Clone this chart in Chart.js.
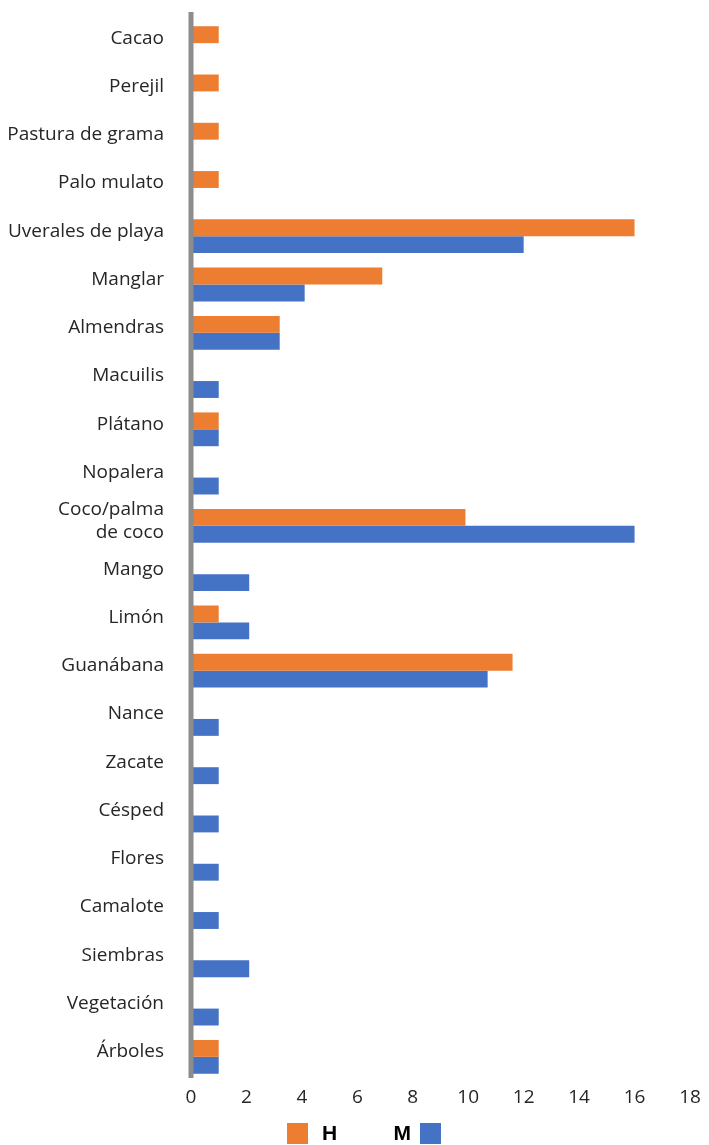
<!DOCTYPE html>
<html>
<head>
<meta charset="utf-8">
<script src="https://cdn.jsdelivr.net/npm/chart.js@4"></script>
<style>
  html, body { margin: 0; padding: 0; background: #fff; }
  #wrap { position: relative; width: 709px; height: 1145px; }
</style>
</head>
<body>
<div id="wrap"><canvas id="plantChart"></canvas></div>
<script>
const categories = [
  'Cacao', 'Perejil', 'Pastura de grama', 'Palo mulato', 'Uverales de playa',
  'Manglar', 'Almendras', 'Macuilis', 'Plátano', 'Nopalera',
  ['Coco/palma', 'de coco'], 'Mango', 'Limón', 'Guanábana', 'Nance',
  'Zacate', 'Césped', 'Flores', 'Camalote', 'Siembras', 'Vegetación', 'Árboles'
];
const valuesH = [1, 1, 1, 1, 16, 6.9, 3.2, null, 1, null, 9.9, null, 1, 11.6, null, null, null, null, null, null, null, 1];
const valuesM = [null, null, null, null, 12, 4.1, 3.2, 1, 1, 1, 16, 2.1, 2.1, 10.7, 1, 1, 1, 1, 1, 2.1, 1, 1];
const xTicks = [0, 2, 4, 6, 8, 10, 12, 14, 16, 18];

const ORANGE = '#ED7D31';
const BLUE = '#4472C4';
const TEXT = '#262626';

// vertical axis line at zero, a little taller than the bar band
const zeroLine = {
  id: 'zeroLine',
  afterDatasetsDraw(chart) {
    const { ctx, chartArea, scales } = chart;
    const x = scales.x.getPixelForValue(0);
    ctx.save();
    ctx.strokeStyle = '#8C8C8C';
    ctx.lineWidth = 5;
    ctx.beginPath();
    ctx.moveTo(x, chartArea.top - 7);
    ctx.lineTo(x, chartArea.bottom - 3);
    ctx.stroke();
    ctx.restore();
  }
};

// legend at the bottom: box left of "H", box right of "M"
const bottomLegend = {
  id: 'bottomLegend',
  afterDraw(chart) {
    const ctx = chart.ctx;
    const [h, m] = chart.data.datasets;
    const y = 1123;
    ctx.save();
    ctx.font = 'bold 21px "Liberation Sans", Arial, sans-serif';
    ctx.textBaseline = 'middle';
    ctx.fillStyle = h.backgroundColor;
    ctx.fillRect(287, y, 21, 21);
    ctx.fillStyle = '#000';
    ctx.textAlign = 'left';
    ctx.fillText(h.label, 322, y + 11);
    ctx.textAlign = 'right';
    ctx.fillText(m.label, 411, y + 11);
    ctx.fillStyle = m.backgroundColor;
    ctx.fillRect(420, y, 21, 21);
    ctx.restore();
  }
};

new Chart(document.getElementById('plantChart'), {
  type: 'bar',
  data: {
    labels: categories,
    datasets: [
      { label: 'H', data: valuesH, backgroundColor: ORANGE, barPercentage: 1, categoryPercentage: 0.7 },
      { label: 'M', data: valuesM, backgroundColor: BLUE, barPercentage: 1, categoryPercentage: 0.7 }
    ]
  },
  options: {
    indexAxis: 'y',
    responsive: true,
    maintainAspectRatio: false,
    animation: false,
    layout: { padding: { top: 19, right: 19, bottom: 34, left: 0 } },
    plugins: {
      legend: { display: false },
      tooltip: { enabled: false }
    },
    scales: {
      x: {
        min: 0,
        max: 18,
        afterBuildTicks: (s) => { s.ticks = xTicks.map((v) => ({ value: v })); },
        afterFit: (s) => { s.height = 30; s.paddingLeft = 0; s.paddingRight = 0; },
        grid: { display: false, drawTicks: false },
        border: { display: false },
        ticks: { color: TEXT, padding: 5, font: { family: 'Open Sans', size: 19 } }
      },
      y: {
        afterFit: (s) => { s.width = 191; s.paddingTop = 0; s.paddingBottom = 0; },
        grid: { display: false, drawTicks: false },
        border: { display: false },
        ticks: {
          color: TEXT,
          padding: 27,
          autoSkip: false,
          labelOffset: -5,
          font: { family: 'Open Sans', size: 19 }
        }
      }
    }
  },
  plugins: [zeroLine, bottomLegend]
});
</script>
</body>
</html>
